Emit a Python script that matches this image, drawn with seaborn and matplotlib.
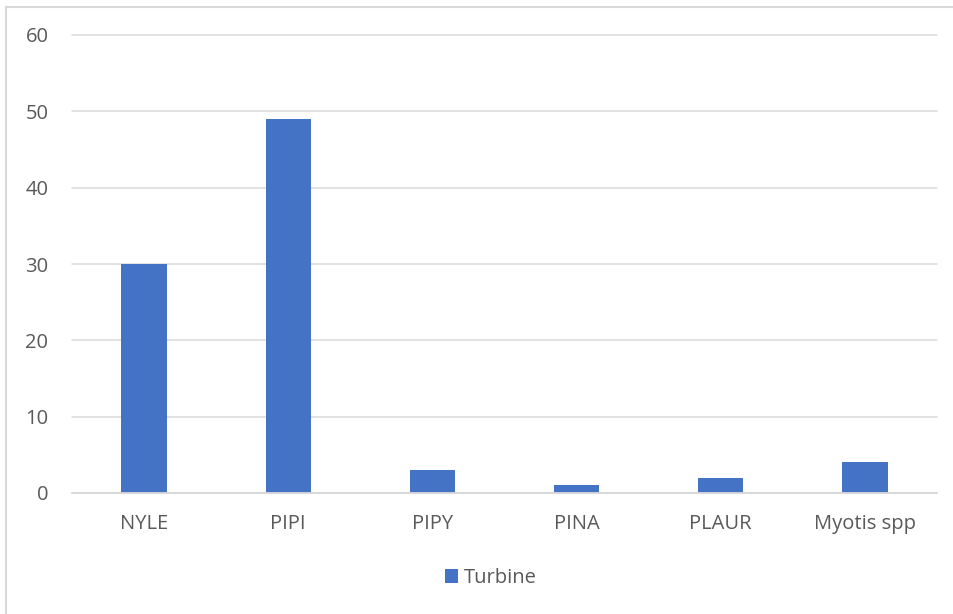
import matplotlib
matplotlib.use("Agg")
import matplotlib.pyplot as plt
from matplotlib.lines import Line2D
from matplotlib.patches import Patch
import seaborn as sns
import pandas as pd

species = ["NYLE", "PIPI", "PIPY", "PINA", "PLAUR", "Myotis spp"]
turbine = [30, 49, 3, 1, 2, 4]
y_ticks = [0, 10, 20, 30, 40, 50, 60]

BAR = "#4472C4"
TEXT = "#595959"
GRID = "#D9D9D9"

sns.set_theme(style="white")
plt.rcParams["font.family"] = ["Open Sans", "DejaVu Sans"]

W, H = 954, 614
fig = plt.figure(figsize=(W / 100, H / 100), dpi=100)
ax = fig.add_axes([72 / W, 1 - 493 / H, (937 - 72) / W, (493 - 35) / H])

df = pd.DataFrame({"species": species, "Turbine": turbine})
sns.barplot(data=df, x="species", y="Turbine", color=BAR, width=0.315,
            saturation=1, linewidth=0, ax=ax, zorder=3)

ax.set_ylim(0, 60)
ax.set_xlim(-0.5, len(species) - 0.5)
ax.set_yticks(y_ticks)
ax.set_yticklabels([str(v) for v in y_ticks])
ax.set_xlabel("")
ax.set_ylabel("")
for s in ["top", "right", "left"]:
    ax.spines[s].set_visible(False)
ax.spines["bottom"].set_color(GRID)
ax.spines["bottom"].set_linewidth(1.3)
ax.spines["bottom"].set_zorder(4)
ax.yaxis.grid(True, color=GRID, linewidth=1.1, zorder=0)
for gl in ax.get_ygridlines():
    gl.set_clip_on(False)
ax.set_axisbelow(True)
ax.tick_params(axis="both", length=0, labelsize=14.5, colors=TEXT)
ax.tick_params(axis="x", pad=15)
ax.tick_params(axis="y", pad=17)

handles = [Patch(facecolor=BAR, edgecolor="none", label="Turbine")]
fig.legend(handles=handles, loc="center", bbox_to_anchor=(491 / W, 1 - 578 / H),
           frameon=False, fontsize=14.5, labelcolor=TEXT, handlelength=0.65,
           handleheight=0.65, handletextpad=0.3)

# outer chart border (top and left edges visible)
fig.add_artist(Line2D([6.5 / W, 1], [1 - 6.5 / H, 1 - 6.5 / H], color=GRID,
                      linewidth=1.5, transform=fig.transFigure))
fig.add_artist(Line2D([6.5 / W, 6.5 / W], [0, 1 - 6.5 / H], color=GRID,
                      linewidth=1.5, transform=fig.transFigure))

fig.savefig("out.png", dpi=100, facecolor="white")
